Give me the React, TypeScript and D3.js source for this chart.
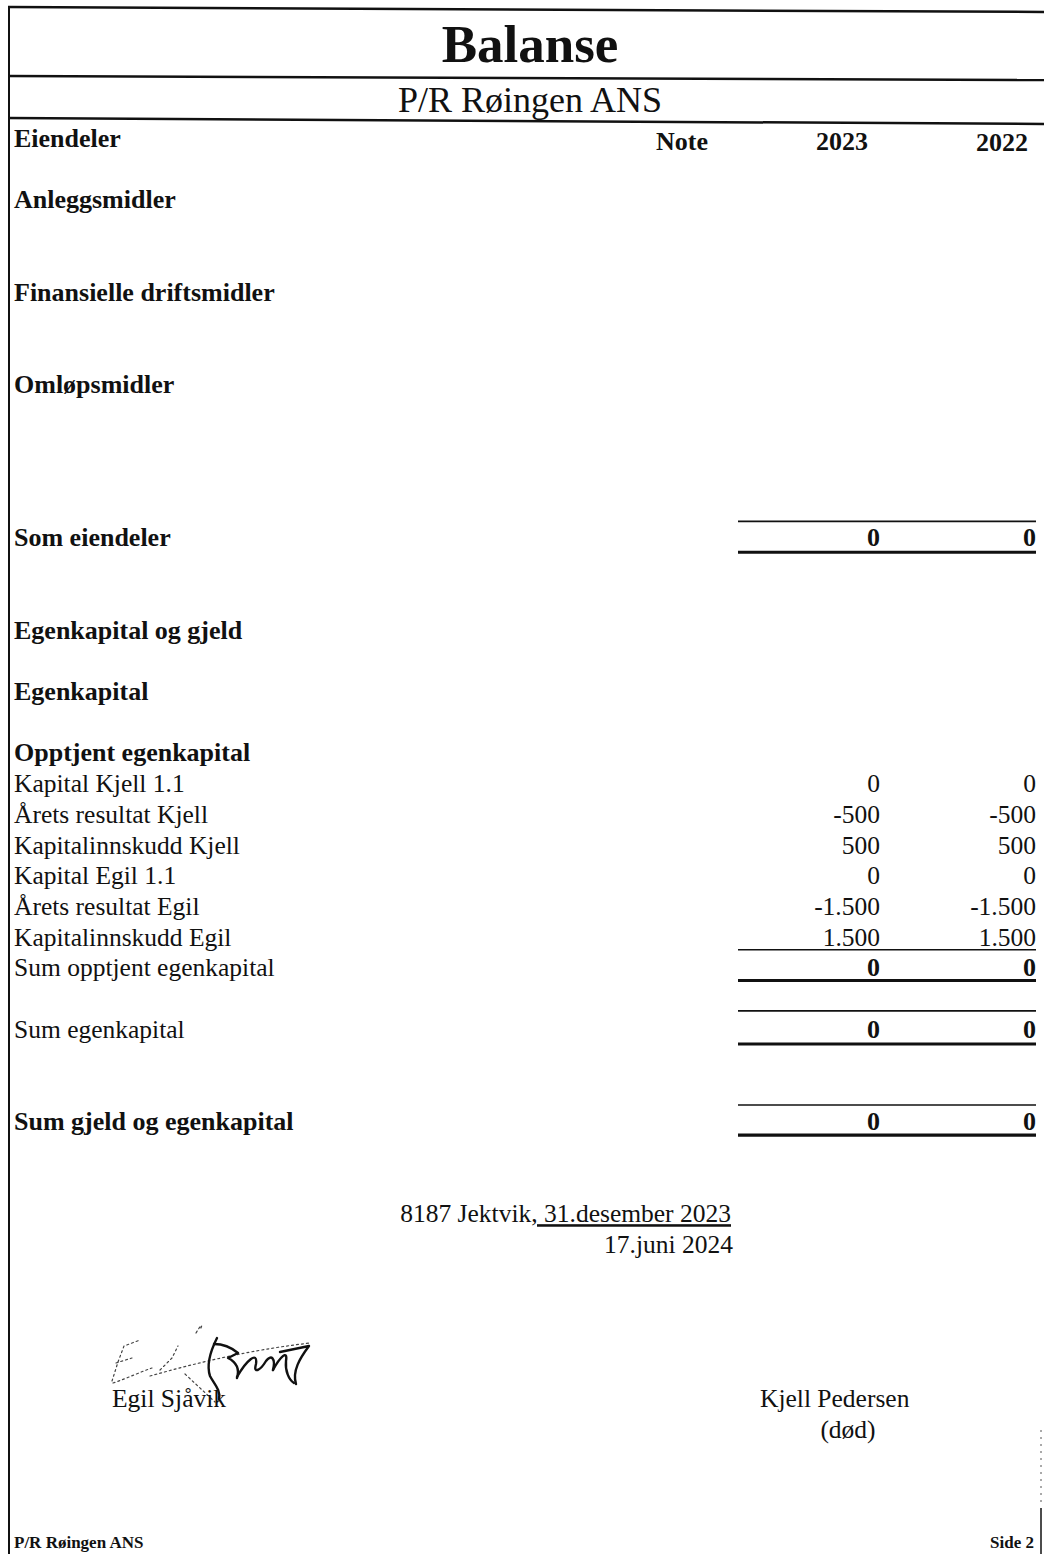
import React from "react";
import * as d3 from "d3";

// ---------- data ----------
const title = "Balanse";
const company = "P/R Røingen ANS";
const years = ["2023", "2022"];
const assetHeadings = ["Anleggsmidler", "Finansielle driftsmidler", "Omløpsmidler"];
const assetValues2023: number[] = [];
const assetValues2022: number[] = [];
const equityItems = [
  "Kapital Kjell 1.1",
  "Årets resultat Kjell",
  "Kapitalinnskudd Kjell",
  "Kapital Egil 1.1",
  "Årets resultat Egil",
  "Kapitalinnskudd Egil",
];
const equity2023 = [0, -500, 500, 0, -1500, 1500];
const equity2022 = [0, -500, 500, 0, -1500, 1500];
const placeLine = "8187 Jektvik";
const dateLine = ", 31.desember 2023";
const dateLine2 = "17.juni 2024";
const signers = ["Egil Sjåvik", "Kjell Pedersen"];
const signerNote = "(død)";
const footerLeft = "P/R Røingen ANS";
const footerRight = "Side 2";

// ---------- helpers ----------
const W = 1044;
const H = 1554;
const FONT = "'Liberation Serif', 'Times New Roman', Times, serif";
const loc = d3.formatLocale({
  decimal: ",",
  thousands: ".",
  grouping: [3],
  currency: ["", " kr"],
  minus: "-",
});
const fmt = loc.format(",d");

const lineY = d3.scaleLinear().domain([0, 42]).range([147, 147 + 42 * 30.72]);
const colX = d3.scaleOrdinal<string, number>().domain(years).range([880, 1036]);
const headX = d3.scaleOrdinal<string, number>().domain(years).range([842, 1002]);
const ruleX0 = 738;
const ruleX1 = 1036;

export default function App() {
  const yearVals = [equity2023, equity2022];
  const assetTotals = [d3.sum(assetValues2023), d3.sum(assetValues2022)];
  const equityTotals = yearVals.map((v) => d3.sum(v));

  const label = (text: string, L: number, bold: boolean, key: string) => (
    <text
      key={key}
      x={14}
      y={lineY(L)}
      fontSize={bold ? 26 : 25.5}
      fontWeight={bold ? "bold" : "normal"}
    >
      {text}
    </text>
  );

  const valueRow = (vals: number[], L: number, bold: boolean, key: string) =>
    years.map((yr, i) => (
      <text
        key={key + yr}
        x={colX(yr)}
        y={lineY(L)}
        textAnchor="end"
        fontSize={bold ? 26 : 25.5}
        fontWeight={bold ? "bold" : "normal"}
      >
        {fmt(vals[i])}
      </text>
    ));

  const rule = (y: number, w: number, key: string) => (
    <line key={key} x1={ruleX0} x2={ruleX1} y1={y} y2={y} stroke="#111" strokeWidth={w} />
  );

  const assetLines = [2, 5, 8];
  const itemStart = 21;

  return (
    <svg
      width={W}
      height={H}
      viewBox={`0 0 ${W} ${H}`}
      style={{ position: "absolute", left: 0, top: 0, background: "#fff" }}
      fontFamily={FONT}
      fill="#111"
    >
      <rect x={0} y={0} width={W} height={H} fill="#fff" />

      {/* frame */}
      <line x1={9} x2={9} y1={7} y2={H} stroke="#111" strokeWidth={2} />
      <line x1={8} x2={W} y1={7} y2={12} stroke="#111" strokeWidth={2.5} />
      <line x1={8} x2={W} y1={76} y2={80} stroke="#111" strokeWidth={2.5} />
      <line x1={8} x2={W} y1={118} y2={124} stroke="#111" strokeWidth={2.5} />
      <line x1={1041} x2={1041} y1={1508} y2={H} stroke="#111" strokeWidth={1.5} />
      <line x1={1041} x2={1041} y1={1430} y2={1505} stroke="#555" strokeWidth={1} strokeDasharray="2 5" />

      {/* titles */}
      <text x={530} y={62} textAnchor="middle" fontSize={53} fontWeight="bold">
        {title}
      </text>
      <text x={530} y={112} textAnchor="middle" fontSize={36}>
        {company}
      </text>

      {/* header row */}
      <text x={14} y={lineY(0)} fontSize={26} fontWeight="bold">
        Eiendeler
      </text>
      <text x={682} y={lineY(0) + 3} textAnchor="middle" fontSize={26} fontWeight="bold">
        Note
      </text>
      {years.map((yr, i) => (
        <text
          key={"h" + yr}
          x={headX(yr)}
          y={lineY(0) + 3 + i}
          textAnchor="middle"
          fontSize={26}
          fontWeight="bold"
        >
          {yr}
        </text>
      ))}

      {/* assets */}
      {assetHeadings.map((h, i) => label(h, assetLines[i], true, "a" + i))}
      {label("Som eiendeler", 13, true, "se")}
      {valueRow(assetTotals, 13, true, "sev")}
      {rule(lineY(13) - 25, 1.8, "ser1")}
      {rule(lineY(13) + 6, 3, "ser2")}

      {/* equity */}
      {label("Egenkapital og gjeld", 16, true, "eg")}
      {label("Egenkapital", 18, true, "ek")}
      {label("Opptjent egenkapital", 20, true, "oe")}
      {equityItems.map((it, i) => label(it, itemStart + i, false, "ei" + i))}
      {equityItems.map((_, i) =>
        valueRow(
          yearVals.map((v) => v[i]),
          itemStart + i,
          false,
          "ev" + i
        )
      )}
      {rule(lineY(itemStart + equityItems.length - 1) + 4, 1.5, "eir")}

      {label("Sum opptjent egenkapital", 27, false, "so")}
      {valueRow(equityTotals, 27, true, "sov")}
      {rule(lineY(27) + 4, 3, "sor")}

      {label("Sum egenkapital", 29, false, "sek")}
      {valueRow(equityTotals, 29, true, "sekv")}
      {rule(lineY(29) - 27, 1.8, "sekr1")}
      {rule(lineY(29) + 6, 3, "sekr2")}

      {label("Sum gjeld og egenkapital", 32, true, "sg")}
      {valueRow(equityTotals, 32, true, "sgv")}
      {rule(lineY(32) - 25, 1.5, "sgr1")}
      {rule(lineY(32) + 5, 3.2, "sgr2")}

      {/* date lines */}
      <text x={731} y={lineY(35)} textAnchor="end" fontSize={25.5}>
        {placeLine}
        <tspan textDecoration="underline">{dateLine}</tspan>
      </text>
      <text x={733} y={lineY(36)} textAnchor="end" fontSize={25.5}>
        {dateLine2}
      </text>

      {/* signature */}
      <g fill="none" strokeLinecap="round" strokeLinejoin="round">
        <g stroke="#444" strokeWidth={1.2} strokeDasharray="2 3">
          <path d="M 112 1381 L 118 1362 L 124 1346 L 140 1340" />
          <path d="M 116 1363 L 132 1358" />
          <path d="M 113 1383 C 128 1378, 140 1372, 152 1368" />
          <path d="M 160 1370 L 172 1358 L 178 1346" />
          <path d="M 196 1333 C 200 1326, 204 1322, 200 1330" />
          <path d="M 150 1376 C 200 1362, 250 1350, 310 1343" />
          <path d="M 185 1374 L 215 1402" />
        </g>
        <g stroke="#111" strokeWidth={2.4}>
          <path d="M 217 1338 C 212 1348, 206 1364, 210 1376 C 214 1384, 221 1390, 219 1399" />
          <path d="M 214 1344 C 223 1344, 232 1348, 238 1353 L 228 1358 C 236 1362, 240 1368, 237 1378" />
          <path d="M 237 1377 C 246 1361, 258 1350, 256 1364 C 253 1374, 260 1371, 266 1361 C 271 1354, 276 1358, 273 1370" />
          <path d="M 273 1370 C 280 1357, 288 1349, 286 1361 C 285 1371, 289 1380, 294 1383" />
          <path d="M 280 1352 L 309 1346 C 300 1358, 292 1371, 296 1384" />
        </g>
      </g>
      <text x={112} y={lineY(41)} fontSize={25.5}>
        {signers[0]}
      </text>
      <text x={760} y={lineY(41)} fontSize={25.5}>
        {signers[1]}
      </text>
      <text x={848} y={lineY(42) + 1} textAnchor="middle" fontSize={25.5}>
        {signerNote}
      </text>

      {/* footer */}
      <text x={14} y={1548} fontSize={17} fontWeight="bold">
        {footerLeft}
      </text>
      <text x={1034} y={1548} textAnchor="end" fontSize={17} fontWeight="bold">
        {footerRight}
      </text>
    </svg>
  );
}
